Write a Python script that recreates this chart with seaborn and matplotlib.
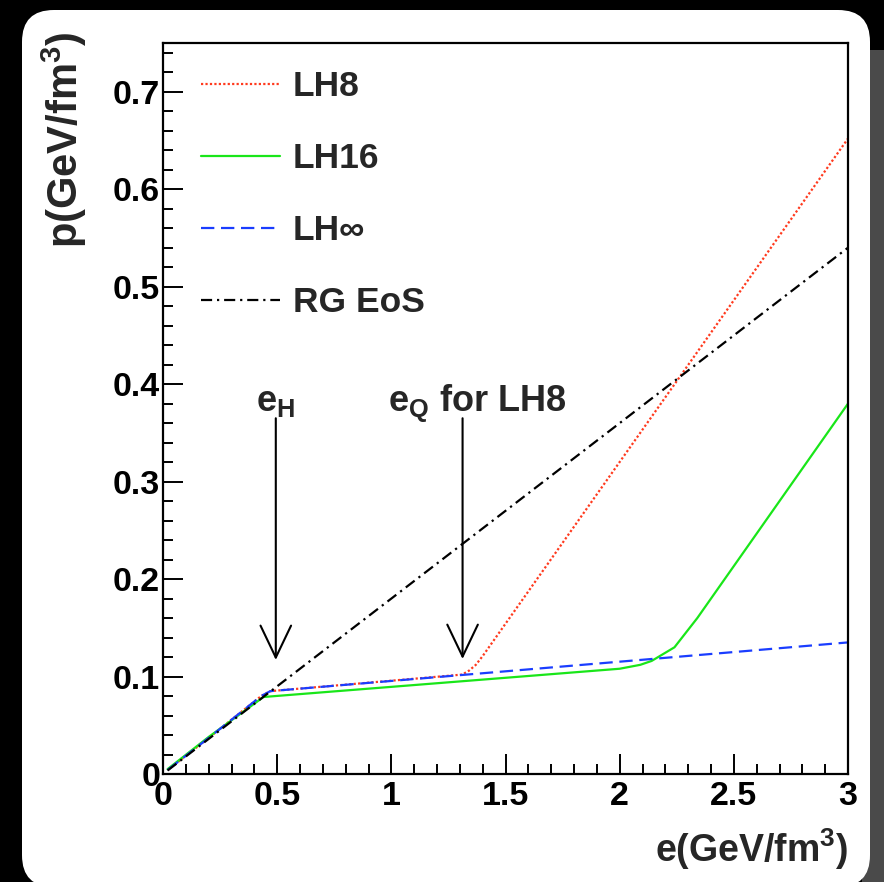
import matplotlib
matplotlib.use("Agg")
import matplotlib.pyplot as plt
from matplotlib.patches import FancyBboxPatch, Rectangle
from matplotlib.ticker import MultipleLocator
import seaborn as sns
import pandas as pd

# ---- data ----
models = ["LH8", "LH16", "LH\u221e", "RG EoS"]

e_lh8 = [0.02, 0.20, 0.43, 0.47, 1.31, 1.34, 1.37, 1.40, 3.00]
p_lh8 = [0.004, 0.037, 0.080, 0.085, 0.102, 0.106, 0.112, 0.121, 0.652]

e_lh16 = [0.02, 0.20, 0.44, 2.00, 2.09, 2.14, 2.24, 2.34, 3.00]
p_lh16 = [0.005, 0.038, 0.079, 0.108, 0.112, 0.116, 0.130, 0.160, 0.380]

e_lhinf = [0.02, 0.20, 0.43, 0.47, 3.00]
p_lhinf = [0.004, 0.037, 0.080, 0.085, 0.135]

e_rg = [0.02, 3.00]
p_rg = [0.0036, 0.540]

x_ticks = [0, 0.5, 1, 1.5, 2, 2.5, 3]
y_ticks = [0, 0.1, 0.2, 0.3, 0.4, 0.5, 0.6, 0.7]

e_H = 0.494
e_Q_LH8 = 1.312

frames = []
for name, e, p in zip(models, [e_lh8, e_lh16, e_lhinf, e_rg],
                      [p_lh8, p_lh16, p_lhinf, p_rg]):
    frames.append(pd.DataFrame({"e": e, "p": p, "model": name}))
df = pd.concat(frames, ignore_index=True)

# ---- style ----
sns.set_style("ticks")
plt.rcParams["font.family"] = ["Liberation Sans", "DejaVu Sans"]
plt.rcParams["font.weight"] = "bold"
plt.rcParams["mathtext.fontset"] = "custom"
plt.rcParams["mathtext.rm"] = "Liberation Sans:bold"
plt.rcParams["mathtext.bf"] = "Liberation Sans:bold"
plt.rcParams["mathtext.it"] = "Liberation Sans:bold"

W, H = 884, 882
fig = plt.figure(figsize=(W / 100, H / 100), dpi=100)
fig.patch.set_facecolor("black")

# grey shadow on the right side and rounded white panel
fig.patches.append(Rectangle((862 / W, 0), 22 / W, 1 - 50 / H,
                             transform=fig.transFigure, facecolor="#4a4a4a",
                             edgecolor="none", zorder=0))
fig.patches.append(FancyBboxPatch((22 / W, -5 / H), (870 - 22) / W, 1 - 10 / H + 5 / H,
                                  boxstyle="round,pad=0,rounding_size=0.036",
                                  transform=fig.transFigure, facecolor="white",
                                  edgecolor="none", zorder=1))

ax = fig.add_axes([163 / W, 1 - 774 / H, (848 - 163) / W, (774 - 43) / H])
ax.set_zorder(2)

palette = {"LH8": "#ff3a1e", "LH16": "#19e619", "LH\u221e": "#1a3dff", "RG EoS": "#000000"}
dashes = {"LH8": (1, 1), "LH16": "", "LH\u221e": (6, 3), "RG EoS": (5, 2.2, 1, 2.2)}
sns.lineplot(data=df, x="e", y="p", hue="model", style="model",
             hue_order=models, style_order=models, palette=palette,
             dashes=dashes, sort=False, estimator=None, lw=1.6, ax=ax,
             legend=True)

ax.set_xlim(0, 3)
ax.set_ylim(0, 0.75)
ax.set_xticks(x_ticks)
ax.set_xticklabels(["0", "0.5", "1", "1.5", "2", "2.5", "3"])
ax.set_yticks(y_ticks)
ax.set_yticklabels(["0", "0.1", "0.2", "0.3", "0.4", "0.5", "0.6", "0.7"])
ax.xaxis.set_minor_locator(MultipleLocator(0.1))
ax.yaxis.set_minor_locator(MultipleLocator(0.02))
ax.tick_params(which="both", direction="in", top=False, right=False, width=1.4,
               labelsize=24.5, colors="black")
ax.tick_params(which="major", length=14.5)
ax.tick_params(which="minor", length=7.2)
ax.tick_params(axis="x", pad=5)
ax.tick_params(axis="y", pad=2)
for lab in ax.get_xticklabels() + ax.get_yticklabels():
    lab.set_fontweight("bold")
for s in ax.spines.values():
    s.set_visible(True)
    s.set_linewidth(1.6)
    s.set_color("black")

ax.set_xlabel(r"e(GeV/fm$^{3}$)", fontsize=27, fontweight="bold", loc="right")
ax.set_ylabel(r"p(GeV/fm$^{3}$)", fontsize=30, fontweight="bold", loc="top")
ax.xaxis.set_label_coords(1.0, -0.072)
ax.yaxis.set_label_coords(-0.108, 1.016)

handles, labels = ax.get_legend_handles_labels()
leg = ax.legend(handles, labels, loc="upper left", bbox_to_anchor=(0.055, 0.963),
                frameon=False, fontsize=25.5, handlelength=2.25, handletextpad=0.35,
                labelspacing=1.1, borderaxespad=0, borderpad=0)
for t in leg.get_texts():
    t.set_fontweight("bold")

arrow_kw = dict(arrowstyle="->,head_length=1.15,head_width=0.55", lw=1.5,
                color="black", mutation_scale=20, shrinkA=0, shrinkB=0)
ax.annotate("", xy=(e_H, 0.117), xytext=(e_H, 0.365), arrowprops=arrow_kw)
ax.annotate("", xy=(e_Q_LH8, 0.118), xytext=(e_Q_LH8, 0.365), arrowprops=arrow_kw)
ax.text(e_H, 0.372, r"e$_{\mathrm{H}}$", fontsize=26, fontweight="bold",
        ha="center", va="baseline")
ax.text(0.985, 0.372, r"e$_{\mathrm{Q}}$ for LH8", fontsize=26, fontweight="bold",
        ha="left", va="baseline")

fig.savefig("out.png", dpi=100, facecolor=fig.get_facecolor())
